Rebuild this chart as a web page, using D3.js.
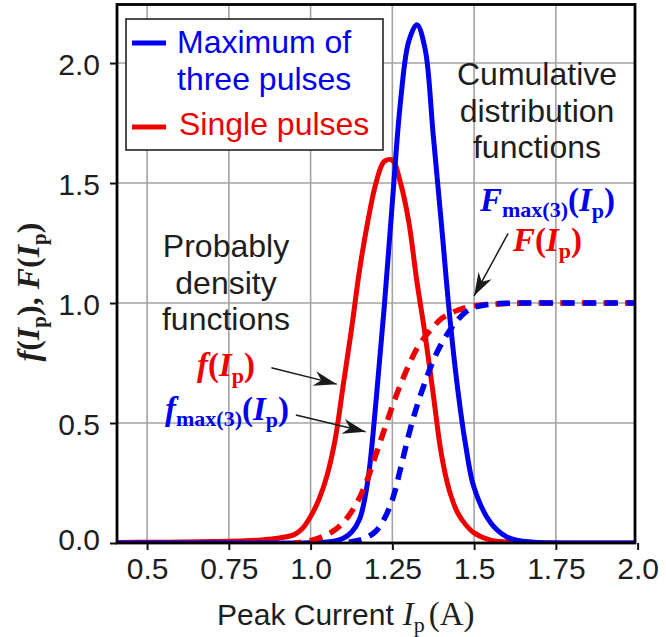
<!DOCTYPE html>
<html><head><meta charset="utf-8">
<script src="https://cdn.jsdelivr.net/npm/d3@7"></script>
<style>body{margin:0;background:#fff;} svg{display:block;}</style>
</head><body>
<svg id="chart" width="666" height="637"></svg>
<script>
// ---------------- data ----------------
const currentA = [0.41, 0.5, 0.6, 0.7, 0.8, 0.85, 0.9, 0.95, 0.975, 1.0, 1.025, 1.05, 1.075, 1.1, 1.125, 1.15, 1.175, 1.2, 1.225, 1.25, 1.275, 1.3, 1.325, 1.35, 1.375, 1.4, 1.425, 1.45, 1.475, 1.5, 1.55, 1.6, 1.65, 1.7, 1.8, 1.9, 2.0];
// probability density, single pulses f(Ip)
const fSingle = [0.002, 0.003, 0.004, 0.006, 0.009, 0.013, 0.02, 0.035, 0.06, 0.11, 0.18, 0.28, 0.43, 0.66, 0.89, 1.14, 1.34, 1.50, 1.59, 1.595, 1.50, 1.34, 1.09, 0.87, 0.62, 0.37, 0.215, 0.125, 0.075, 0.042, 0.012, 0.004, 0.001, 0, 0, 0, 0];
// probability density, maximum of three pulses fmax(3)(Ip)
const fMax3 = [0, 0, 0, 0, 0, 0, 0, 0, 0, 0.001, 0.002, 0.004, 0.009, 0.02, 0.045, 0.10, 0.26, 0.59, 0.98, 1.42, 1.84, 2.09, 2.16, 2.06, 1.70, 1.33, 0.95, 0.64, 0.40, 0.23, 0.085, 0.025, 0.007, 0.002, 0, 0, 0];
// cumulative distribution, single pulses F(Ip)
const FSingle = [null, null, null, null, null, null, null, 0.0, 0.004, 0.01, 0.02, 0.035, 0.055, 0.085, 0.13, 0.19, 0.27, 0.37, 0.47, 0.57, 0.66, 0.74, 0.81, 0.86, 0.90, 0.935, 0.955, 0.97, 0.98, 0.988, 0.995, 0.998, 1.0, 1.0, 1.0, 1.0, 1.0];
// cumulative distribution, maximum of three pulses Fmax(3)(Ip)
const FMax3 = [null, null, null, null, null, null, null, null, null, null, null, 0.0, 0.001, 0.002, 0.005, 0.012, 0.025, 0.05, 0.10, 0.18, 0.31, 0.45, 0.57, 0.67, 0.76, 0.83, 0.885, 0.93, 0.963, 0.982, 0.995, 0.999, 1.0, 1.0, 1.0, 1.0, 1.0];

const xTicks = [0.5, 0.75, 1.0, 1.25, 1.5, 1.75, 2.0];
const xTickLabels = ["0.5", "0.75", "1.0", "1.25", "1.5", "1.75", "2.0"];
const yTicks = [0, 0.5, 1.0, 1.5, 2.0];
const yTickLabels = ["0.0", "0.5", "1.0", "1.5", "2.0"];
const legendLabels = [["Maximum of", "three pulses"], ["Single pulses"]];

// ---------------- setup ----------------
const BLUE = "#0000ee", RED = "#ee0000", INK = "#1e1e1e";
const SANS = "'Liberation Sans', Arial, sans-serif";
const SERIF = "'Liberation Serif', 'Times New Roman', serif";
const plot = {left: 117, top: 4.5, right: 635, bottom: 543};
const svg = d3.select("#chart");
svg.append("rect").attr("width", 666).attr("height", 637).attr("fill", "#fff");

const x = d3.scaleLinear().domain([0.408, 1.992]).range([plot.left, plot.right]);
const y = d3.scaleLinear().domain([0, 2.244]).range([plot.bottom, plot.top]);

svg.append("defs").append("clipPath").attr("id", "clip")
  .append("rect").attr("x", plot.left).attr("y", plot.top)
  .attr("width", plot.right - plot.left).attr("height", plot.bottom - plot.top);

// grid
const grid = svg.append("g").attr("stroke", "#a3a3a3").attr("stroke-width", 1.6);
grid.selectAll("line.v").data(xTicks.filter(d => d < 1.99)).join("line")
  .attr("x1", d => x(d)).attr("x2", d => x(d)).attr("y1", plot.top).attr("y2", plot.bottom);
grid.selectAll("line.h").data(yTicks.filter(d => d > 0)).join("line")
  .attr("y1", d => y(d)).attr("y2", d => y(d)).attr("x1", plot.left).attr("x2", plot.right);

// curves
const mk = vals => currentA.map((a, i) => ({a, v: vals[i]}));
const line = d3.line().defined(d => d.v != null).x(d => x(d.a)).y(d => y(d.v))
  .curve(d3.curveCatmullRom.alpha(0.5));
const curves = svg.append("g").attr("clip-path", "url(#clip)").attr("fill", "none")
  .attr("stroke-linejoin", "round");
curves.append("path").attr("d", line(mk(fSingle))).attr("stroke", RED).attr("stroke-width", 5);
curves.append("path").attr("d", line(mk(fMax3))).attr("stroke", BLUE).attr("stroke-width", 5);
const dRed = curves.append("path").attr("d", line(mk(FSingle))).attr("stroke", RED).attr("stroke-width", 5.5);
const dBlue = curves.append("path").attr("d", line(mk(FMax3))).attr("stroke", BLUE).attr("stroke-width", 5.5);

const DASH = 13, GAP = 8.6, PERIOD = DASH + GAP;
function alignDash(sel, targetPx) {
  const p = sel.node(), L = p.getTotalLength();
  let lo = 0, hi = L;
  for (let k = 0; k < 40; k++) { const m = (lo + hi) / 2; if (p.getPointAtLength(m).x < targetPx) lo = m; else hi = m; }
  const off = ((PERIOD - (lo % PERIOD)) % PERIOD);
  sel.attr("stroke-dasharray", DASH + " " + GAP).attr("stroke-dashoffset", off);
}
alignDash(dRed, 538.5);
alignDash(dBlue, 540);

// border
svg.append("rect").attr("x", plot.left).attr("y", plot.top)
  .attr("width", plot.right - plot.left).attr("height", plot.bottom - plot.top)
  .attr("fill", "none").attr("stroke", "#000").attr("stroke-width", 2.8);

// axes
const xAxis = d3.axisBottom(x).tickValues(xTicks).tickFormat((d, i) => xTickLabels[i])
  .tickSize(7).tickPadding(8).tickSizeOuter(0);
const gx = svg.append("g").attr("transform", `translate(0,${plot.bottom})`).call(xAxis);
const yAxis = d3.axisLeft(y).tickValues(yTicks).tickFormat((d, i) => yTickLabels[i])
  .tickSize(7).tickPadding(10).tickSizeOuter(0);
const gy = svg.append("g").attr("transform", `translate(${plot.left},0)`).call(yAxis);
[gx, gy].forEach(g => {
  g.select(".domain").remove();
  g.selectAll(".tick line").attr("stroke", "#111").attr("stroke-width", 2);
  g.selectAll(".tick text").attr("font-family", SANS).attr("font-size", 30).attr("fill", INK);
});
gy.selectAll(".tick text").attr("dy", d => d === 0 ? "0.2em" : "0.38em");

// axis titles
const xt = svg.append("text").attr("x", 217).attr("y", 625).attr("fill", INK).attr("font-size", 30);
xt.append("tspan").attr("font-family", SANS).text("Peak Current");
xt.append("tspan").attr("font-family", SERIF).attr("font-style", "italic").attr("font-size", 33).attr("dx", 9).text("I");
xt.append("tspan").attr("font-family", SERIF).attr("font-size", 22).attr("dy", 7).text("p");
xt.append("tspan").attr("font-family", SERIF).attr("font-size", 33).attr("dy", -7).attr("dx", 4).text("(A)");

function mathText(parent, parts, size, sub) {
  parts.forEach(p => {
    const t = parent.append("tspan").attr("font-family", SERIF).attr("font-weight", "bold")
      .attr("font-style", p.i ? "italic" : "normal")
      .attr("font-size", p.s ? sub : size).text(p.t);
    if (p.dy) t.attr("dy", p.dy);
    if (p.dx) t.attr("dx", p.dx);
  });
}
const yl = svg.append("text").attr("transform", "translate(39,292) rotate(-90)")
  .attr("text-anchor", "middle").attr("fill", INK);
mathText(yl, [
  {t: "f", i: true}, {t: "("}, {t: "I", i: true}, {t: "p", s: true, dy: 7}, {t: ")", dy: -7},
  {t: ", "}, {t: "F", i: true}, {t: "("}, {t: "I", i: true}, {t: "p", s: true, dy: 7}, {t: ")", dy: -7}
], 32, 21);

// legend
const lg = svg.append("g");
lg.append("rect").attr("x", 126).attr("y", 19).attr("width", 257).attr("height", 131)
  .attr("fill", "#fff").attr("stroke", "#222").attr("stroke-width", 1.6);
lg.append("line").attr("x1", 132).attr("x2", 166).attr("y1", 43).attr("y2", 43).attr("stroke", BLUE).attr("stroke-width", 5);
lg.append("line").attr("x1", 132).attr("x2", 166).attr("y1", 127).attr("y2", 127).attr("stroke", RED).attr("stroke-width", 5);
const lt1 = lg.append("text").attr("font-family", SANS).attr("font-size", 32).attr("fill", BLUE);
lt1.append("tspan").attr("x", 177).attr("y", 53).text(legendLabels[0][0]);
lt1.append("tspan").attr("x", 177).attr("y", 90).text(legendLabels[0][1]);
lg.append("text").attr("font-family", SANS).attr("font-size", 32).attr("fill", RED)
  .attr("x", 179).attr("y", 135).text(legendLabels[1][0]);

// annotations
function block(lines, cx, y0, step) {
  const t = svg.append("text").attr("font-family", SANS).attr("font-size", 32).attr("fill", INK)
    .attr("text-anchor", "middle");
  lines.forEach((s, i) => t.append("tspan").attr("x", cx).attr("y", y0 + i * step).text(s));
}
block(["Probably", "density", "functions"], 226, 257, 36.5);
block(["Cumulative", "distribution", "functions"], 537, 85, 36.5);

const m1 = svg.append("text").attr("x", 480).attr("y", 211).attr("fill", BLUE);
mathText(m1, [{t: "F", i: true}, {t: "max(3)", s: true, dy: 6}, {t: "(", dy: -6}, {t: "I", i: true}, {t: "p", s: true, dy: 7}, {t: ")", dy: -7}], 33, 22);
const m2 = svg.append("text").attr("x", 513).attr("y", 251).attr("fill", RED);
mathText(m2, [{t: "F", i: true}, {t: "("}, {t: "I", i: true}, {t: "p", s: true, dy: 7}, {t: ")", dy: -7}], 33, 22);
const m3 = svg.append("text").attr("x", 197).attr("y", 376).attr("fill", RED);
mathText(m3, [{t: "f", i: true}, {t: "("}, {t: "I", i: true}, {t: "p", s: true, dy: 7}, {t: ")", dy: -7}], 33, 22);
const m4 = svg.append("text").attr("x", 165).attr("y", 420).attr("fill", BLUE);
mathText(m4, [{t: "f", i: true}, {t: "max(3)", s: true, dy: 6}, {t: "(", dy: -6}, {t: "I", i: true}, {t: "p", s: true, dy: 7}, {t: ")", dy: -7}], 33, 22);

// arrows
svg.select("defs").append("marker").attr("id", "ah").attr("markerUnits", "userSpaceOnUse")
  .attr("viewBox", "-24 -9 26 18").attr("refX", 0).attr("refY", 0)
  .attr("markerWidth", 26).attr("markerHeight", 18).attr("orient", "auto")
  .append("path").attr("d", "M0,0 L-23,-7.5 L-16,0 L-23,7.5 Z").attr("fill", "#1a1a1a");
const arrows = [
  {from: [1.604, 1.29], to: [1.5, 1.03]},
  {from: [0.88, 0.73], to: [1.08, 0.662]},
  {from: [0.955, 0.533], to: [1.168, 0.464]}
];
svg.append("g").selectAll("line").data(arrows).join("line")
  .attr("x1", d => x(d.from[0])).attr("y1", d => y(d.from[1]))
  .attr("x2", d => x(d.to[0])).attr("y2", d => y(d.to[1]))
  .attr("stroke", "#1a1a1a").attr("stroke-width", 1.5).attr("marker-end", "url(#ah)");
</script>
</body></html>
